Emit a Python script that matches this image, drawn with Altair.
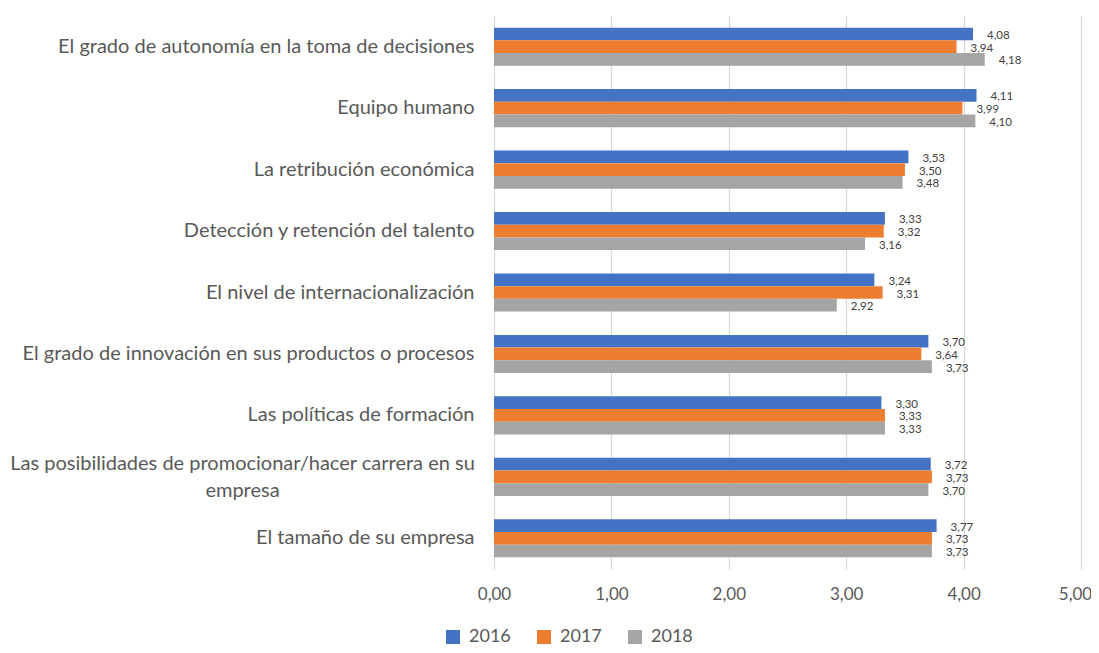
import altair as alt
import pandas as pd

categories = [
    "El grado de autonomía en la toma de decisiones",
    "Equipo humano",
    "La retribución económica",
    "Detección y retención del talento",
    "El nivel de internacionalización",
    "El grado de innovación en sus productos o procesos",
    "Las políticas de formación",
    "Las posibilidades de promocionar/hacer carrera en su\nempresa",
    "El tamaño de su empresa",
]
years = ["2016", "2017", "2018"]
v2016 = [4.08, 4.11, 3.53, 3.33, 3.24, 3.70, 3.30, 3.72, 3.77]
v2017 = [3.94, 3.99, 3.50, 3.32, 3.31, 3.64, 3.33, 3.73, 3.73]
v2018 = [4.18, 4.10, 3.48, 3.16, 2.92, 3.73, 3.33, 3.70, 3.73]
colors = ["#4472C4", "#ED7D31", "#A5A5A5"]
x_ticks = [0, 1, 2, 3, 4, 5]

rows = []
for i, c in enumerate(categories):
    for yr, vals in zip(years, [v2016, v2017, v2018]):
        rows.append({"cat": c, "year": yr, "value": vals[i],
                     "label": f"{vals[i]:.2f}".replace(".", ",")})
df = pd.DataFrame(rows)

FONT = "Lato"
TXT = "#595959"
MULTI = "indexof(datum.value, '\\n') >= 0"

y_enc = alt.Y(
    "cat:N", sort=categories,
    scale=alt.Scale(paddingInner=0.38, paddingOuter=0.19),
    axis=alt.Axis(title=None, labelExpr="split(datum.label, '\\n')",
                  labelFont=FONT, labelFontSize=20, labelColor=TXT,
                  ticks=False, domain=False, labelLimit=600,
                  labelLineHeight=27,
                  labelPadding={"condition": {"test": MULTI, "value": 252}, "value": 20},
                  labelAlign={"condition": {"test": MULTI, "value": "center"}, "value": "right"},
                  labelOffset={"condition": {"test": MULTI, "value": -13}, "value": 0}),
)
yoff = alt.YOffset("year:N", sort=years,
                   scale=alt.Scale(paddingInner=0, paddingOuter=0))
x_enc = alt.X(
    "value:Q", scale=alt.Scale(domain=[0, 5], nice=False),
    axis=alt.Axis(title=None, values=x_ticks, grid=True, gridColor="#D9D9D9",
                  gridWidth=1.2, domain=False, ticks=False, labelFlush=False,
                  labelExpr="replace(format(datum.value, '.2f'), '.', ',')",
                  labelFont=FONT, labelFontSize=17, labelColor=TXT,
                  labelPadding=17,
                  labelOffset={"condition": {"test": "datum.value >= 5", "value": -6},
                               "value": 0}),
)

base = alt.Chart(df)
bars = base.mark_bar().encode(
    x=x_enc, y=y_enc, yOffset=yoff,
    color=alt.Color("year:N", sort=years,
                    scale=alt.Scale(domain=years, range=colors),
                    legend=alt.Legend(title=None, orient="none", direction="horizontal",
                                      legendX=-50, legendY=612,
                                      symbolType="square", symbolSize=196,
                                      symbolStrokeWidth=0, labelFont=FONT,
                                      labelFontSize=18, labelColor=TXT,
                                      columnPadding=24, labelOffset=7, padding=0)),
)
labels = base.mark_text(align="left", baseline="middle", dx=14, dy=2,
                        font=FONT, fontSize=11.5, color="#404040").encode(
    x="value:Q", y=alt.Y("cat:N", sort=categories), yOffset=yoff, text="label:N",
)

chart = (bars + labels).properties(
    width=587, height=553,
    autosize=alt.AutoSizeParams(type="none"),
    padding={"left": 486, "top": 8, "right": 10, "bottom": 76},
).configure_view(stroke=None)

chart.save("out.html", embed_options={"renderer": "svg", "actions": False})
